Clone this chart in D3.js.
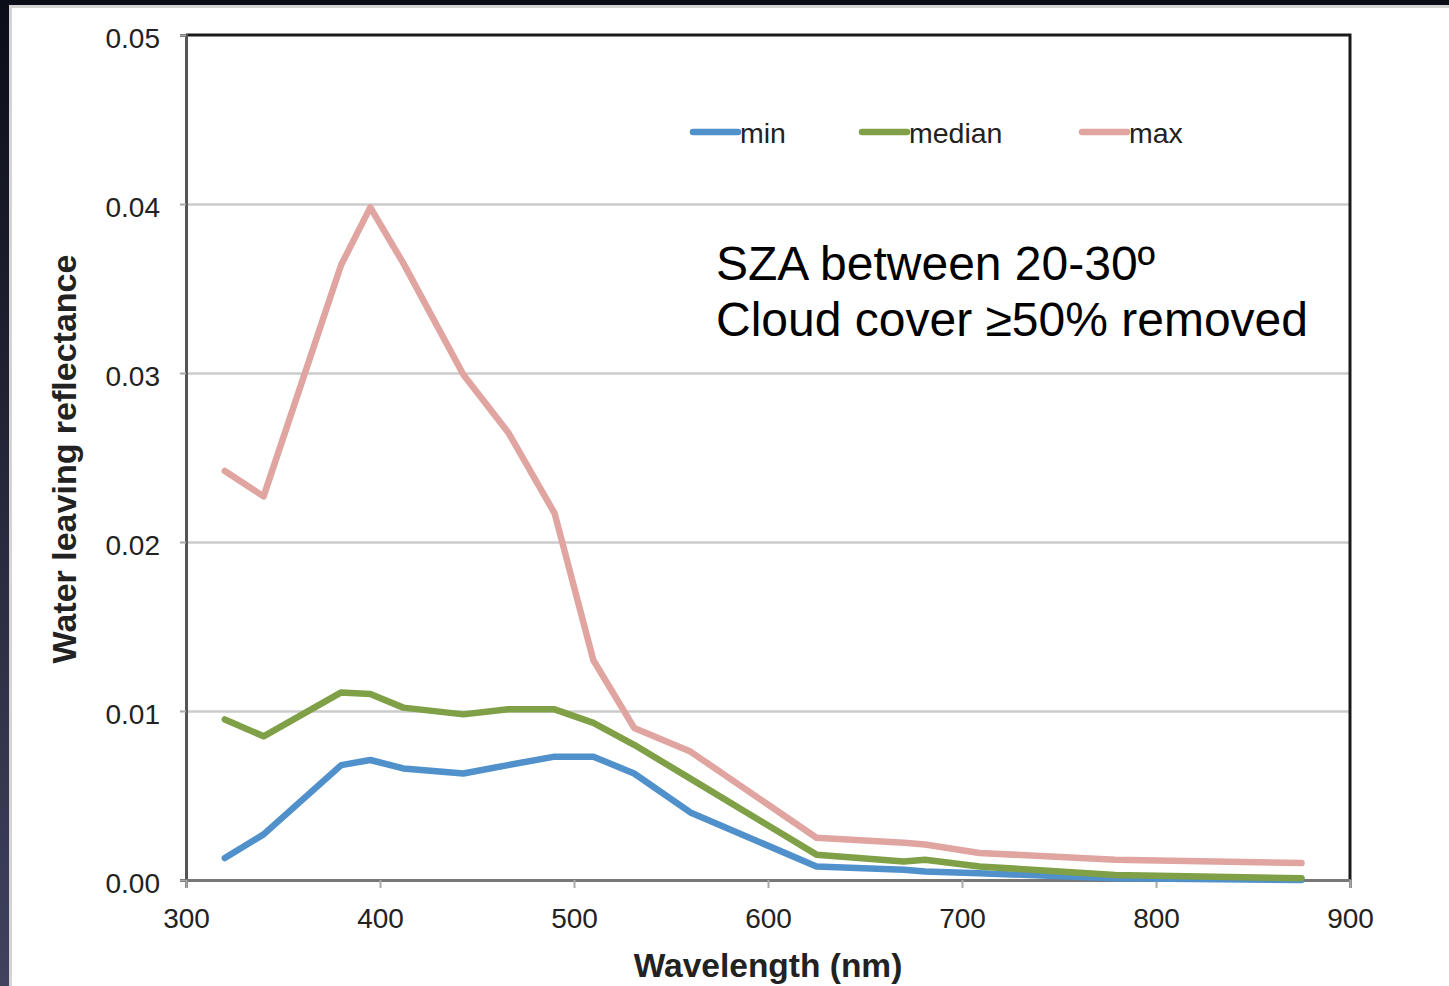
<!DOCTYPE html>
<html>
<head>
<meta charset="utf-8">
<script src="https://cdn.jsdelivr.net/npm/d3@7"></script>
<style>
  html, body { margin: 0; padding: 0; background: #0b0e18; }
  svg { display: block; }
  text { font-family: "Liberation Sans", Arial, Helvetica, sans-serif; fill: #222; }
</style>
</head>
<body>
<div class="container"></div>
<script>
const wavelengths = [320, 340, 380, 395, 412, 443, 466, 490, 510, 531, 560, 625, 670, 681, 709, 779, 875]
const minValues = [0.0013, 0.0027, 0.0068, 0.0071, 0.0066, 0.0063, 0.0068, 0.0073, 0.0073, 0.0063, 0.0040, 0.0008, 0.0006, 0.0005, 0.0004, 0.0001, 0.0000]
const medianValues = [0.0095, 0.0085, 0.0111, 0.0110, 0.0102, 0.0098, 0.0101, 0.0101, 0.0093, 0.0080, 0.0060, 0.0015, 0.0011, 0.0012, 0.0008, 0.0003, 0.0001]
const maxValues = [0.0242, 0.0227, 0.0364, 0.0398, 0.0365, 0.0299, 0.0265, 0.0217, 0.0130, 0.0090, 0.0076, 0.0025, 0.0022, 0.0021, 0.0016, 0.0012, 0.0010]
const seriesNames = ['min', 'median', 'max']
const seriesColors = ['#5090cb', '#7fa046', '#e0a5a0']
const xTicks = [300, 400, 500, 600, 700, 800, 900]
const yTicks = [0, 0.01, 0.02, 0.03, 0.04, 0.05]
const notes = ['SZA between 20-30º', 'Cloud cover ≥50% removed']

const w = 1449
const h = 986
const plotLeft = 186, plotRight = 1350, plotTop = 35, plotBottom = 880

const svg = d3.select('.container')
  .append('svg')
  .attr('width', w)
  .attr('height', h)

// slide frame
const grad = svg.append('defs').append('linearGradient')
  .attr('id', 'edge').attr('x1', 0).attr('y1', 0).attr('x2', 0).attr('y2', 1)
grad.append('stop').attr('offset', '0%').attr('stop-color', '#0b0e18')
grad.append('stop').attr('offset', '100%').attr('stop-color', '#40425e')
svg.append('rect').attr('x', 0).attr('y', 0).attr('width', w).attr('height', h).attr('fill', '#0b0e18')
svg.append('rect').attr('x', 0).attr('y', 0).attr('width', 9).attr('height', h).attr('fill', 'url(#edge)')
svg.append('rect').attr('x', 9).attr('y', 5).attr('width', w - 9).attr('height', h - 5).attr('fill', '#d4d4d4')
svg.append('rect').attr('x', 12).attr('y', 8).attr('width', w - 12).attr('height', h - 8).attr('fill', '#fff')

const xScale = d3.scaleLinear().domain([300, 900]).range([plotLeft, plotRight])
const yScale = d3.scaleLinear().domain([0, 0.05]).range([plotBottom, plotTop])

// gridlines
svg.append('g')
  .attr('transform', `translate(${plotLeft}, 0)`)
  .call(d3.axisLeft(yScale).tickValues(yTicks.slice(1, -1)).tickSize(-(plotRight - plotLeft)).tickFormat(''))
  .call(g => g.select('.domain').remove())
  .call(g => g.selectAll('line').attr('stroke', '#cbcbcb').attr('stroke-width', 2.5))

// top & right border
svg.append('path')
  .attr('d', `M${plotLeft},${plotTop}H${plotRight}V${plotBottom}`)
  .attr('fill', 'none').attr('stroke', '#1a1a1a').attr('stroke-width', 3)

// y axis
svg.append('g')
  .attr('transform', `translate(${plotLeft}, 0)`)
  .call(d3.axisLeft(yScale).tickValues(yTicks).tickSize(6).tickPadding(20).tickFormat(d3.format('.2f')))
  .call(g => g.select('.domain').attr('stroke', '#555').attr('stroke-width', 3))
  .call(g => g.selectAll('line').attr('stroke', '#aaa').attr('stroke-width', 2))
  .call(g => g.selectAll('text').attr('font-size', 28).attr('fill', '#222').attr('dy', '0.45em')
    .attr('font-family', '"Liberation Sans", Arial, sans-serif'))

// x axis
svg.append('g')
  .attr('transform', `translate(0, ${plotBottom})`)
  .call(d3.axisBottom(xScale).tickValues(xTicks).tickSize(8).tickPadding(20).tickFormat(d3.format('d')))
  .call(g => g.select('.domain').attr('stroke', '#777').attr('stroke-width', 3))
  .call(g => g.selectAll('line').attr('stroke', '#aaa').attr('stroke-width', 2))
  .call(g => g.selectAll('text').attr('font-size', 28).attr('fill', '#222')
    .attr('font-family', '"Liberation Sans", Arial, sans-serif'))

// lines
const allValues = [minValues, medianValues, maxValues]
const line = d3.line()
  .x((d, i) => xScale(wavelengths[i]))
  .y(d => yScale(d))

svg.selectAll('.series')
  .data(allValues)
  .enter()
  .append('path')
  .attr('class', 'series')
  .attr('d', d => line(d))
  .attr('fill', 'none')
  .attr('stroke', (d, i) => seriesColors[i])
  .attr('stroke-width', 6.5)
  .attr('stroke-linejoin', 'round')
  .attr('stroke-linecap', 'round')

// legend
const legendX = [693, 862, 1082]
const legend = svg.selectAll('.legend')
  .data(seriesNames)
  .enter()
  .append('g')
  .attr('class', 'legend')
  .attr('transform', (d, i) => `translate(${legendX[i]}, 132)`)

legend.append('line')
  .attr('x1', 0).attr('x2', 45)
  .attr('stroke', (d, i) => seriesColors[i])
  .attr('stroke-width', 6.5)
  .attr('stroke-linecap', 'round')

legend.append('text')
  .text(d => d)
  .attr('x', 47)
  .attr('y', 11)
  .attr('font-size', 28.5)

// annotation
svg.selectAll('.note')
  .data(notes)
  .enter()
  .append('text')
  .attr('class', 'note')
  .text(d => d)
  .attr('x', 716)
  .attr('y', (d, i) => 280 + i * 56)
  .attr('font-size', 48)
  .style('fill', '#000')

// axis titles
svg.append('text')
  .text('Wavelength (nm)')
  .attr('x', (plotLeft + plotRight) / 2)
  .attr('y', 977)
  .attr('text-anchor', 'middle')
  .attr('font-size', 33.5)
  .attr('font-weight', 'bold')

svg.append('text')
  .text('Water leaving reflectance')
  .attr('transform', 'translate(76, 459) rotate(-90)')
  .attr('text-anchor', 'middle')
  .attr('font-size', 34)
  .attr('font-weight', 'bold')
</script>
</body>
</html>
